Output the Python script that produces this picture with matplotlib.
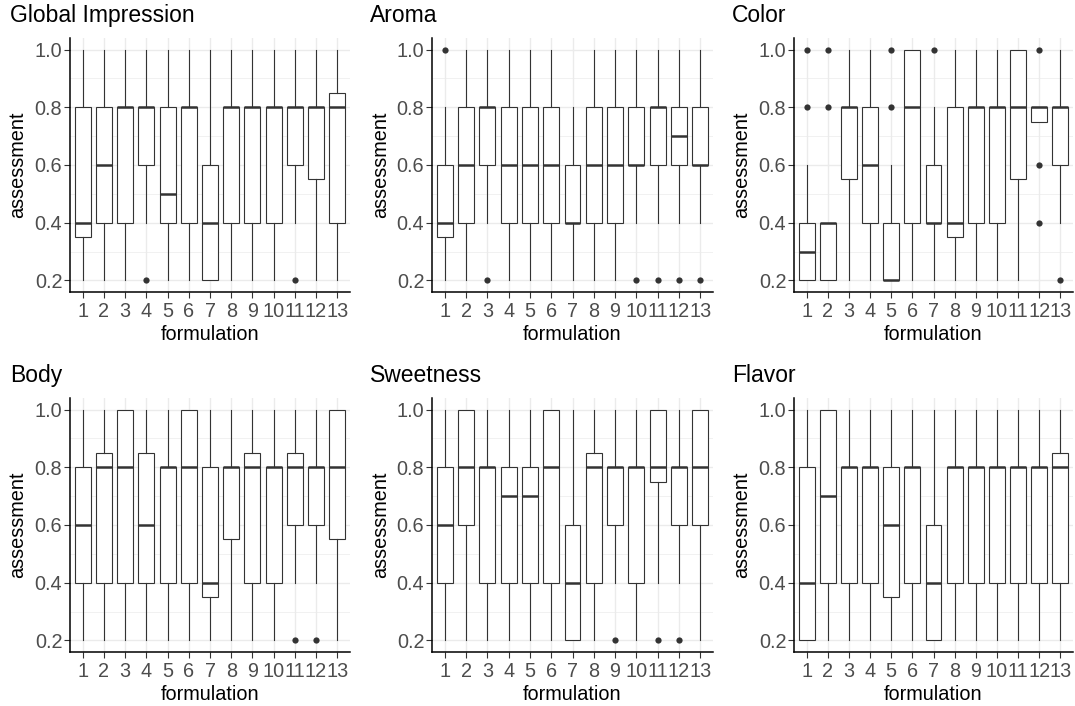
import matplotlib
matplotlib.use("Agg")
import matplotlib.pyplot as plt
from matplotlib.ticker import MultipleLocator, FormatStrFormatter

plt.rcParams['font.family'] = ['Liberation Sans', 'DejaVu Sans']

formulations = [str(i) for i in range(1, 14)]
titles = ["Global Impression", "Aroma", "Color", "Body", "Sweetness", "Flavor"]

# each row: whisker low, q1, median, q3, whisker high (formulation 1..13)
global_impression = [
    [0.2, 0.35, 0.4, 0.8, 1.0], [0.2, 0.4, 0.6, 0.8, 1.0], [0.2, 0.4, 0.8, 0.8, 1.0],
    [0.4, 0.6, 0.8, 0.8, 1.0], [0.2, 0.4, 0.5, 0.8, 1.0], [0.2, 0.4, 0.8, 0.8, 1.0],
    [0.2, 0.2, 0.4, 0.6, 1.0], [0.2, 0.4, 0.8, 0.8, 1.0], [0.2, 0.4, 0.8, 0.8, 1.0],
    [0.2, 0.4, 0.8, 0.8, 1.0], [0.4, 0.6, 0.8, 0.8, 1.0], [0.2, 0.55, 0.8, 0.8, 1.0],
    [0.2, 0.4, 0.8, 0.85, 1.0]]
global_impression_out = [[], [], [], [0.2], [], [], [], [], [], [], [0.2], [], []]

aroma = [
    [0.2, 0.35, 0.4, 0.6, 0.8], [0.2, 0.4, 0.6, 0.8, 1.0], [0.4, 0.6, 0.8, 0.8, 1.0],
    [0.2, 0.4, 0.6, 0.8, 1.0], [0.2, 0.4, 0.6, 0.8, 1.0], [0.2, 0.4, 0.6, 0.8, 1.0],
    [0.2, 0.4, 0.4, 0.6, 0.8], [0.2, 0.4, 0.6, 0.8, 1.0], [0.2, 0.4, 0.6, 0.8, 1.0],
    [0.4, 0.6, 0.6, 0.8, 1.0], [0.4, 0.6, 0.8, 0.8, 1.0], [0.4, 0.6, 0.7, 0.8, 1.0],
    [0.4, 0.6, 0.6, 0.8, 1.0]]
aroma_out = [[1.0], [], [0.2], [], [], [], [], [], [], [0.2], [0.2], [0.2], [0.2]]

color = [
    [0.2, 0.2, 0.3, 0.4, 0.6], [0.2, 0.2, 0.4, 0.4, 0.4], [0.2, 0.55, 0.8, 0.8, 1.0],
    [0.2, 0.4, 0.6, 0.8, 1.0], [0.2, 0.2, 0.2, 0.4, 0.6], [0.2, 0.4, 0.8, 1.0, 1.0],
    [0.2, 0.4, 0.4, 0.6, 0.8], [0.2, 0.35, 0.4, 0.8, 1.0], [0.2, 0.4, 0.8, 0.8, 1.0],
    [0.2, 0.4, 0.8, 0.8, 1.0], [0.2, 0.55, 0.8, 1.0, 1.0], [0.75, 0.75, 0.8, 0.8, 0.8],
    [0.4, 0.6, 0.8, 0.8, 1.0]]
color_out = [[0.8, 1.0], [0.8, 1.0], [], [], [0.8, 1.0], [], [1.0], [], [], [], [],
             [0.4, 0.6, 1.0], [0.2]]

body = [
    [0.2, 0.4, 0.6, 0.8, 1.0], [0.2, 0.4, 0.8, 0.85, 1.0], [0.2, 0.4, 0.8, 1.0, 1.0],
    [0.2, 0.4, 0.6, 0.85, 1.0], [0.2, 0.4, 0.8, 0.8, 1.0], [0.2, 0.4, 0.8, 1.0, 1.0],
    [0.2, 0.35, 0.4, 0.8, 1.0], [0.2, 0.55, 0.8, 0.8, 1.0], [0.2, 0.4, 0.8, 0.85, 1.0],
    [0.2, 0.4, 0.8, 0.8, 1.0], [0.4, 0.6, 0.8, 0.85, 1.0], [0.4, 0.6, 0.8, 0.8, 1.0],
    [0.2, 0.55, 0.8, 1.0, 1.0]]
body_out = [[], [], [], [], [], [], [], [], [], [], [0.2], [0.2], []]

sweetness = [
    [0.2, 0.4, 0.6, 0.8, 1.0], [0.2, 0.6, 0.8, 1.0, 1.0], [0.2, 0.4, 0.8, 0.8, 1.0],
    [0.2, 0.4, 0.7, 0.8, 1.0], [0.2, 0.4, 0.7, 0.8, 1.0], [0.2, 0.4, 0.8, 1.0, 1.0],
    [0.2, 0.2, 0.4, 0.6, 1.0], [0.2, 0.4, 0.8, 0.85, 1.0], [0.4, 0.6, 0.8, 0.8, 1.0],
    [0.2, 0.4, 0.8, 0.8, 1.0], [0.4, 0.75, 0.8, 1.0, 1.0], [0.4, 0.6, 0.8, 0.8, 1.0],
    [0.2, 0.6, 0.8, 1.0, 1.0]]
sweetness_out = [[], [], [], [], [], [], [], [], [0.2], [], [0.2], [0.2], []]

flavor = [
    [0.2, 0.2, 0.4, 0.8, 1.0], [0.2, 0.4, 0.7, 1.0, 1.0], [0.2, 0.4, 0.8, 0.8, 1.0],
    [0.2, 0.4, 0.8, 0.8, 1.0], [0.2, 0.35, 0.6, 0.8, 1.0], [0.2, 0.4, 0.8, 0.8, 1.0],
    [0.2, 0.2, 0.4, 0.6, 1.0], [0.2, 0.4, 0.8, 0.8, 1.0], [0.2, 0.4, 0.8, 0.8, 1.0],
    [0.2, 0.4, 0.8, 0.8, 1.0], [0.2, 0.4, 0.8, 0.8, 1.0], [0.2, 0.4, 0.8, 0.8, 1.0],
    [0.2, 0.4, 0.8, 0.85, 1.0]]
flavor_out = [[], [], [], [], [], [], [], [], [], [], [], [], []]

panel_data = [global_impression, aroma, color, body, sweetness, flavor]
panel_out = [global_impression_out, aroma_out, color_out, body_out, sweetness_out, flavor_out]

W, H = 1075, 706
fig = plt.figure(figsize=(W / 100, H / 100), dpi=100)

# pixel boxes of the panels: left, right / top, bottom
cols = [(70, 350), (432, 713), (794, 1073)]
rows = [(38, 292), (398, 652)]
title_x = [10, 370, 732]
title_y = [22, 382]
ylab_x = [18, 381, 742]

line_c = '#333333'
for k in range(6):
    r, c = divmod(k, 3)
    l, rr = cols[c]
    t, b = rows[r]
    ax = fig.add_axes([l / W, 1 - b / H, (rr - l) / W, (b - t) / H])

    stats = []
    for vals, outs in zip(panel_data[k], panel_out[k]):
        lo, q1, med, q3, hi = vals
        stats.append(dict(whislo=lo, q1=q1, med=med, q3=q3, whishi=hi, fliers=outs))
    pos = list(range(1, len(formulations) + 1))
    ax.bxp(stats, positions=pos, widths=0.75, patch_artist=True, showcaps=False,
           boxprops=dict(facecolor='white', edgecolor=line_c, linewidth=0.8),
           whiskerprops=dict(color=line_c, linewidth=0.8),
           medianprops=dict(color=line_c, linewidth=1.8, solid_capstyle='butt'),
           flierprops=dict(marker='o', markerfacecolor=line_c, markeredgecolor='none',
                           markersize=4.5))

    ax.set_xlim(0.4, 13.6)
    ax.set_ylim(0.16, 1.04)
    ax.set_xticks(pos)
    ax.set_xticklabels(formulations)
    ax.yaxis.set_major_locator(MultipleLocator(0.2))
    ax.yaxis.set_minor_locator(MultipleLocator(0.1))
    ax.yaxis.set_major_formatter(FormatStrFormatter('%.1f'))
    ax.set_axisbelow(True)
    ax.grid(True, which='major', color='#EBEBEB', linewidth=1.0)
    ax.grid(True, which='minor', axis='y', color='#EBEBEB', linewidth=0.5)
    for s in ['top', 'right']:
        ax.spines[s].set_visible(False)
    for s in ['left', 'bottom']:
        ax.spines[s].set_color('black')
        ax.spines[s].set_linewidth(1.1)
    ax.tick_params(which='major', length=4, width=0.8, color=line_c,
                   labelsize=14.3, labelcolor='#4D4D4D', pad=1.5)
    ax.tick_params(axis='x', which='major', pad=3)
    ax.tick_params(which='minor', length=0)
    ax.set_xlabel('formulation', fontsize=14.3, labelpad=3)

    fig.text(ylab_x[c] / W, 1 - (t + b) / 2 / H, 'assessment', rotation=90,
             ha='center', va='center', fontsize=14.3)
    fig.text(title_x[c] / W, 1 - title_y[r] / H, titles[k], ha='left',
             va='baseline', fontsize=16.5)

fig.savefig('out.png', dpi=100)
